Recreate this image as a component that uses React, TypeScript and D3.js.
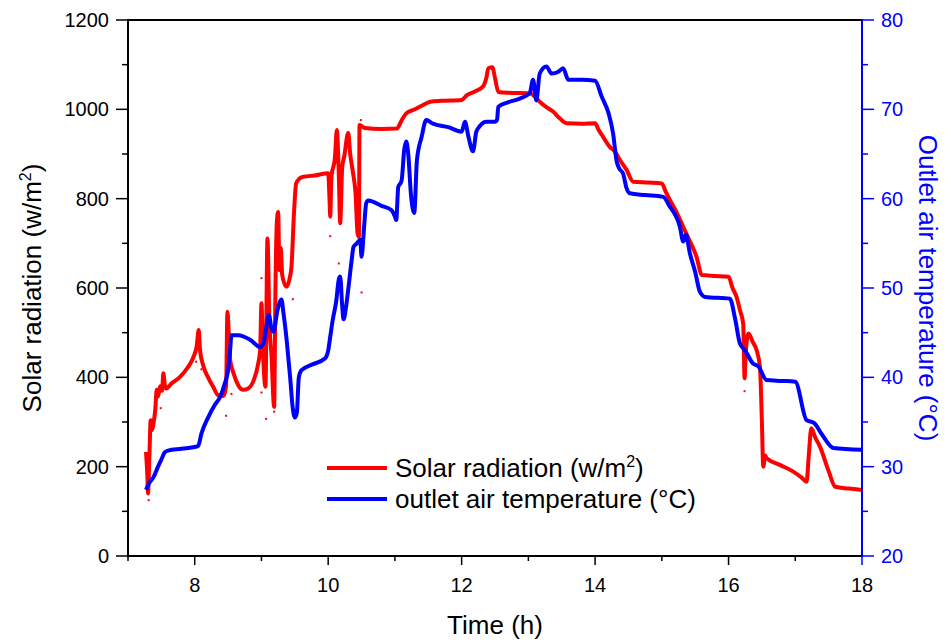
import React from "react";
import * as d3 from "d3";

const solarTime = [7.27,7.29,7.30,7.32,7.34,7.36,7.38,7.41,7.43,7.45,7.48,7.51,7.53,7.55,7.57,7.65,7.78,7.90,7.98,8.03,8.06,8.08,8.13,8.20,8.28,8.35,8.43,8.47,8.49,8.51,8.53,8.58,8.65,8.73,8.80,8.88,8.95,8.98,9.00,9.02,9.06,9.09,9.12,9.15,9.19,9.21,9.23,9.25,9.27,9.29,9.31,9.35,9.38,9.42,9.45,9.49,9.52,9.57,9.63,9.80,10.00,10.02,10.03,10.05,10.10,10.13,10.16,10.18,10.21,10.24,10.30,10.33,10.37,10.41,10.44,10.46,10.47,10.55,10.80,11.03,11.10,11.17,11.30,11.40,11.53,11.70,12.00,12.08,12.20,12.32,12.37,12.40,12.46,12.50,12.55,12.70,13.02,13.10,13.17,13.27,13.37,13.47,13.57,13.80,14.00,14.05,14.10,14.22,14.30,14.37,14.47,14.57,14.80,15.00,15.06,15.12,15.22,15.32,15.42,15.52,15.60,15.80,16.00,16.06,16.12,16.17,16.22,16.24,16.26,16.30,16.36,16.42,16.47,16.50,16.52,16.55,16.57,16.77,16.97,17.10,17.17,17.20,17.24,17.30,17.37,17.50,17.60,17.80,18.00];
const solarValue = [233,180,140,220,304,282,295,330,372,357,380,370,409,385,375,386,401,423,445,470,506,460,425,400,378,360,358,380,547,500,440,410,383,372,375,392,430,461,566,470,379,711,520,450,334,600,745,770,640,690,630,608,603,620,648,775,834,845,849,852,857,800,760,850,890,954,850,745,870,894,947,900,860,812,723,715,965,958,956,957,975,991,1000,1008,1017,1019,1021,1032,1040,1051,1070,1092,1094,1070,1039,1037,1036,1028,1017,1005,995,980,969,968,969,955,943,916,905,887,865,838,836,834,815,797,770,737,705,670,629,627,625,600,580,551,520,398,460,498,480,461,424,300,200,225,219,204,189,175,166,220,286,265,245,190,155,151,148];

const tempTime = [7.27,7.32,7.38,7.45,7.50,7.55,7.60,7.80,8.05,8.10,8.20,8.30,8.38,8.45,8.50,8.53,8.55,8.65,8.83,8.98,9.03,9.07,9.11,9.15,9.18,9.24,9.30,9.33,9.38,9.43,9.47,9.50,9.53,9.56,9.60,9.75,9.95,10.00,10.03,10.07,10.12,10.16,10.18,10.21,10.23,10.27,10.30,10.35,10.38,10.43,10.48,10.50,10.54,10.57,10.60,10.80,10.95,11.00,11.02,11.05,11.10,11.14,11.17,11.20,11.24,11.29,11.33,11.40,11.47,11.57,11.80,12.00,12.05,12.10,12.17,12.22,12.27,12.37,12.50,12.53,12.55,12.70,12.87,13.02,13.07,13.12,13.17,13.27,13.35,13.45,13.52,13.60,13.80,14.00,14.10,14.20,14.27,14.32,14.36,14.42,14.47,14.52,14.75,15.02,15.12,15.20,15.27,15.32,15.36,15.42,15.50,15.57,15.65,16.02,16.10,16.17,16.25,16.36,16.45,16.57,16.80,17.00,17.17,17.28,17.40,17.57,18.00];
const tempValue = [27.4,28.2,28.8,30.0,30.8,31.6,31.8,32.0,32.3,33.7,35.5,36.9,37.8,39.3,40.8,43.0,44.7,44.7,44.2,43.4,43.8,45.5,47.0,45.5,45.1,47.5,48.7,47.2,44.0,40.0,36.5,35.5,36.0,40.0,40.8,41.4,42.1,43.0,44.5,46.5,48.5,51.0,51.3,48.0,46.5,48.0,49.8,53.0,54.6,55.0,55.4,53.5,57.0,59.5,59.8,59.2,58.7,58.0,57.6,61.3,62.0,65.5,66.4,65.0,60.5,58.4,64.3,66.9,68.8,68.4,68.0,67.5,68.6,67.0,65.3,67.5,68.1,68.6,68.6,68.8,70.3,70.8,71.2,71.8,73.3,71.0,74.0,74.8,74.0,74.2,74.6,73.3,73.3,73.2,71.4,69.6,67.3,64.3,63.4,62.8,61.2,60.6,60.4,60.2,59.1,58.2,56.9,55.2,56.0,53.9,51.8,49.6,49.0,48.8,46.5,43.8,43.0,41.6,41.2,39.7,39.6,39.5,35.2,34.9,33.6,32.1,31.9];

const solarDotTime = [7.31,7.49,8.02,8.10,8.47,8.55,9.00,9.00,9.07,9.19,9.47,10.16,10.03,10.42,10.50,10.49,16.24];
const solarDotValue = [125,331,435,418,314,363,622,366,307,323,575,655,716,778,590,976,369];

const xTicks = [8,10,12,14,16,18];
const xMinor = [7,9,11,13,15,17];
const leftTicks = [0,200,400,600,800,1000,1200];
const leftMinor = [100,300,500,700,900,1100];
const rightTicks = [20,30,40,50,60,70,80];
const rightMinor = [25,35,45,55,65,75];

const RED = "#ff0000";
const BLUE = "#0000ff";
const FONT = "'Liberation Sans', Arial, sans-serif";

export default function App() {
  const W = 951, H = 644;
  const L = 128, R = 862, T = 20, B = 556;
  const x = d3.scaleLinear().domain([7, 18]).range([L, R]);
  const yL = d3.scaleLinear().domain([0, 1200]).range([B, T]);
  const yR = d3.scaleLinear().domain([20, 80]).range([B, T]);

  const solarData = solarTime.map((t, i) => [t, solarValue[i]] as [number, number]);
  const tempData = tempTime.map((t, i) => [t, tempValue[i]] as [number, number]);
  const solarLine = d3.line<[number, number]>().x(d => x(d[0])).y(d => yL(d[1])).curve(d3.curveMonotoneX);
  const tempLine = d3.line<[number, number]>().x(d => x(d[0])).y(d => yR(d[1])).curve(d3.curveMonotoneX);

  return (
    <svg width={W} height={H} style={{ position: "absolute", left: 0, top: 0, background: "#fff" }} fontFamily={FONT}>
      <rect x={0} y={0} width={W} height={H} fill="#fff" />
      <path d={solarLine(solarData) || ""} fill="none" stroke={RED} strokeWidth={4} strokeLinejoin="round" />
      {solarDotTime.map((t, i) => (
        <rect key={"d" + i} x={x(t) - 1} y={yL(solarDotValue[i]) - 1} width={2} height={2} fill={RED} />
      ))}
      <path d={tempLine(tempData) || ""} fill="none" stroke={BLUE} strokeWidth={4} strokeLinejoin="round" />

      <line x1={L} x2={R} y1={T} y2={T} stroke="#000" strokeWidth={2} />
      <line x1={L} x2={R} y1={B} y2={B} stroke="#000" strokeWidth={2} />
      <line x1={L} x2={L} y1={T - 1} y2={B + 1} stroke="#000" strokeWidth={2} />
      {leftTicks.map(v => (
        <g key={"l" + v}>
          <line x1={L - 12} x2={L} y1={yL(v)} y2={yL(v)} stroke="#000" strokeWidth={1.5} />
          <text x={L - 19} y={yL(v) + 7} fontSize={20} textAnchor="end" fill="#000">{v}</text>
        </g>
      ))}
      {leftMinor.map(v => (
        <line key={"lm" + v} x1={L - 6} x2={L} y1={yL(v)} y2={yL(v)} stroke="#000" strokeWidth={1.5} />
      ))}
      {xTicks.map(v => (
        <g key={"x" + v}>
          <line x1={x(v)} x2={x(v)} y1={B} y2={B + 9} stroke={v === 18 ? BLUE : "#000"} strokeWidth={1.5} />
          <text x={x(v)} y={B + 36} fontSize={20} textAnchor="middle" fill="#000">{v}</text>
        </g>
      ))}
      {xMinor.map(v => (
        <line key={"xm" + v} x1={x(v)} x2={x(v)} y1={B} y2={B + 5} stroke="#000" strokeWidth={1.5} />
      ))}
      <line x1={R} x2={R} y1={T - 1} y2={B + 1} stroke={BLUE} strokeWidth={2} />
      {rightTicks.map(v => (
        <g key={"r" + v}>
          <line x1={R} x2={R + 12} y1={yR(v)} y2={yR(v)} stroke={BLUE} strokeWidth={1.5} />
          <text x={R + 19} y={yR(v) + 7} fontSize={20} textAnchor="start" fill={BLUE}>{v}</text>
        </g>
      ))}
      {rightMinor.map(v => (
        <line key={"rm" + v} x1={R} x2={R + 6} y1={yR(v)} y2={yR(v)} stroke={BLUE} strokeWidth={1.5} />
      ))}

      <text x={495} y={634} fontSize={26} textAnchor="middle" fill="#000">Time (h)</text>
      <text transform={`translate(41, ${(T + B) / 2}) rotate(-90)`} fontSize={26} textAnchor="middle" fill="#000">
        Solar radiation (w/m<tspan dy={-10} fontSize={16}>2</tspan><tspan dy={10}>)</tspan>
      </text>
      <text transform={`translate(919, ${(T + B) / 2}) rotate(90)`} fontSize={26} textAnchor="middle" fill={BLUE}>
        Outlet air temperature (°C)
      </text>

      <line x1={327} x2={387} y1={468} y2={468} stroke={RED} strokeWidth={4} />
      <text x={395} y={477} fontSize={26} fill="#000">
        Solar radiation (w/m<tspan dy={-10} fontSize={16}>2</tspan><tspan dy={10}>)</tspan>
      </text>
      <line x1={327} x2={387} y1={499} y2={499} stroke={BLUE} strokeWidth={4} />
      <text x={395} y={508} fontSize={26} fill="#000">outlet air temperature (°C)</text>
    </svg>
  );
}
